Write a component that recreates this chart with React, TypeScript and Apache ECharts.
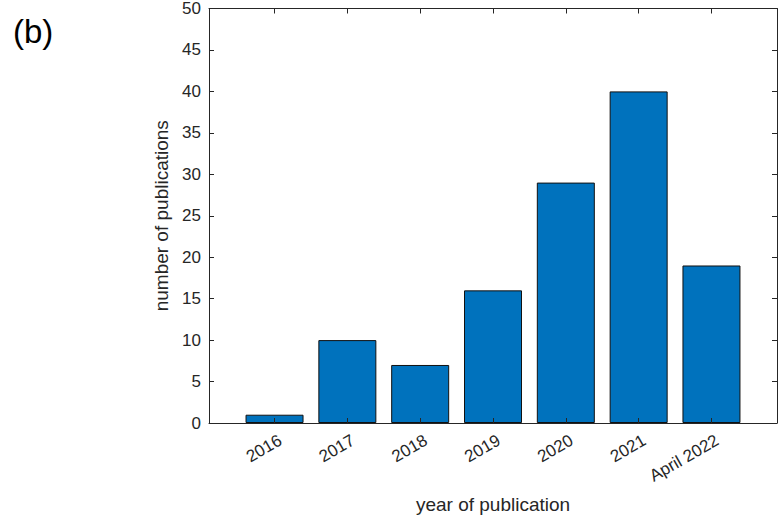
import React, { useEffect, useRef } from "react";
import * as echarts from "echarts";

const categories = ["2016", "2017", "2018", "2019", "2020", "2021", "April 2022"];
const publications = [1, 10, 7, 16, 29, 40, 19];
const yTicks = [0, 5, 10, 15, 20, 25, 30, 35, 40, 45, 50];

const AXIS = "#262626";
const FONT = "'Liberation Sans', Arial, Helvetica, sans-serif";

export default function App() {
  const ref = useRef<HTMLDivElement>(null);
  useEffect(() => {
    if (!ref.current) return;
    const chart = echarts.init(ref.current, undefined, { renderer: "svg" });
    const positions = categories.map((_, i) => i + 1);
    const xCommon = {
      type: "value" as const,
      min: 0.1,
      max: 7.9,
      z: 5,
      splitLine: { show: false },
      axisLine: { show: true, onZero: false, lineStyle: { color: AXIS, width: 1 } },
      axisTick: { show: true, inside: true, length: 5, customValues: positions, lineStyle: { color: AXIS } },
    };
    const yCommon = {
      type: "value" as const,
      min: yTicks[0],
      max: yTicks[yTicks.length - 1],
      interval: 5,
      z: 5,
      splitLine: { show: false },
      axisLine: { show: true, lineStyle: { color: AXIS, width: 1 } },
      axisTick: { show: true, inside: true, length: 5, lineStyle: { color: AXIS } },
    };
    chart.setOption({
      animation: false,
      backgroundColor: "#ffffff",
      textStyle: { fontFamily: FONT },
      grid: { left: 209, top: 7, width: 568, height: 417, containLabel: false },
      graphic: [
        {
          type: "text",
          left: 13,
          top: 15,
          style: { text: "(b)", font: "33px 'Liberation Sans', Arial, sans-serif", fill: "#000" },
        },
      ],
      xAxis: [
        {
          ...xCommon,
          position: "bottom",
          name: "year of publication",
          nameLocation: "middle",
          nameGap: 72,
          nameTextStyle: { fontSize: 19, color: AXIS, fontFamily: FONT },
          axisLabel: { show: false },
        },
        {
          ...xCommon,
          position: "top",
          axisLabel: { show: false },
        },
        {
          type: "value",
          position: "bottom",
          min: 0.02,
          max: 7.82,
          splitLine: { show: false },
          axisLine: { show: false },
          axisTick: { show: false },
          axisLabel: {
            show: true,
            customValues: positions,
            rotate: 30,
            margin: 16,
            fontSize: 17,
            color: AXIS,
            fontFamily: FONT,
            formatter: (v: number) => categories[Math.round(v) - 1] ?? "",
          },
        },
      ],
      yAxis: [
        {
          ...yCommon,
          position: "left",
          name: "number of publications",
          nameLocation: "middle",
          nameGap: 38,
          nameTextStyle: { fontSize: 19, color: AXIS, fontFamily: FONT },
          axisLabel: { show: true, margin: 8, fontSize: 17, color: AXIS, fontFamily: FONT },
        },
        {
          ...yCommon,
          position: "right",
          axisLabel: { show: false },
        },
      ],
      series: [
        {
          type: "bar",
          xAxisIndex: 0,
          yAxisIndex: 0,
          barWidth: 58,
          z: 1,
          data: publications.map((v, i) => [positions[i], v]),
          itemStyle: { color: "#0072BD", borderColor: "#111111", borderWidth: 1 },
        },
      ],
    });
    return () => chart.dispose();
  }, []);
  return (
    <div
      ref={ref}
      style={{ position: "absolute", left: 0, top: 0, width: 779, height: 519, background: "#fff" }}
    />
  );
}
